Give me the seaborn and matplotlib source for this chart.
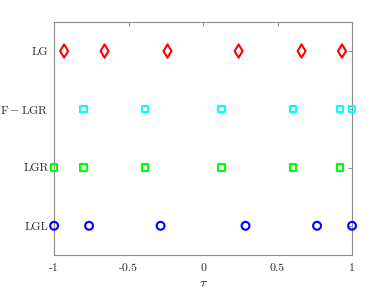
import matplotlib
matplotlib.use("Agg")
import matplotlib.pyplot as plt
import seaborn as sns
import pandas as pd

# Node locations (tau) for each scheme
lg_nodes = [-0.9325, -0.6612, -0.2386, 0.2386, 0.6612, 0.9325]
flgr_nodes = [-0.8029, -0.3909, 0.1240, 0.6039, 0.9203, 1.0]
lgr_nodes = [-1.0, -0.8029, -0.3909, 0.1240, 0.6039, 0.9203]
lgl_nodes = [-1.0, -0.7651, -0.2852, 0.2852, 0.7651, 1.0]

scheme_names = ["LGL", "LGR", "F-LGR", "LG"]
scheme_labels = ["LGL", "LGR", r"$\mathrm{F-LGR}$", "LG"]
x_ticks = [-1, -0.5, 0, 0.5, 1]
x_tick_labels = ["-1", "-0.5", "0", "0.5", "1"]

sns.set_style("white")
plt.rcParams["mathtext.fontset"] = "cm"
plt.rcParams["font.family"] = ["cmr10", "DejaVu Serif"]
plt.rcParams["axes.unicode_minus"] = False

level = {n: i + 1 for i, n in enumerate(scheme_names)}
rows = []
for name, nodes in [("LGL", lgl_nodes), ("LGR", lgr_nodes),
                    ("F-LGR", flgr_nodes), ("LG", lg_nodes)]:
    for v in nodes:
        rows.append({"tau": v, "scheme": name, "level": level[name]})
df = pd.DataFrame(rows)

styles = {
    "LG": dict(marker="d", color=(1, 0, 0), s=46),
    "F-LGR": dict(marker="s", color=(0, 1, 1), s=20),
    "LGR": dict(marker="s", color=(0, 1, 0), s=20),
    "LGL": dict(marker="o", color=(0, 0, 1), s=32),
}

fig = plt.figure(figsize=(3.89, 2.92), dpi=100)
ax = fig.add_axes([0.139, 0.127, 0.766, 0.798])

for name in scheme_names:
    st = styles[name]
    sub = df[df["scheme"] == name]
    sns.scatterplot(data=sub, x="tau", y="level", ax=ax, marker=st["marker"],
                    s=st["s"], facecolor="none", edgecolor=st["color"],
                    linewidth=1.5, legend=False, clip_on=False, zorder=3)

ax.set_xlim(-1, 1)
ax.set_ylim(0.5, 4.5)
ax.set_xticks(x_ticks)
ax.set_xticklabels(x_tick_labels)
ax.set_yticks([1, 2, 3, 4])
ax.set_yticklabels(scheme_labels)
ax.set_xlabel(r"$\tau$", fontsize=10, labelpad=4)
ax.set_ylabel("")
ax.tick_params(direction="in", length=3, width=0.6, color="#808080",
               top=True, right=True, labelsize=8.5)
ax.tick_params(axis="x", pad=6)
ax.tick_params(axis="y", pad=4)
for sp in ax.spines.values():
    sp.set_color("#8c8c8c")
    sp.set_linewidth(0.8)

fig.savefig("out.png", dpi=100)
